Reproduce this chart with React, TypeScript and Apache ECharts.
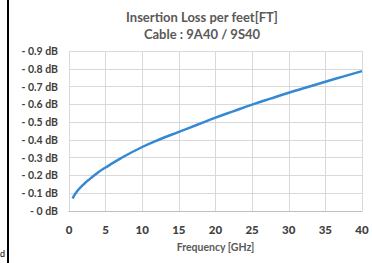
import React, { useEffect, useRef } from "react";
import * as echarts from "echarts";

const titleLines = ["Insertion Loss per feet[FT]", "Cable : 9A40 / 9S40"];
const xAxisName = "Frequency [GHz]";
const frequencies = [0.5, 1, 2, 3, 4, 5, 7, 10, 12.5, 15, 17.5, 20, 22.5, 25, 27.5, 30, 32.5, 35, 37.5, 40];
const lossValues = [0.07, 0.105, 0.15, 0.185, 0.218, 0.245, 0.295, 0.36, 0.405, 0.445, 0.485, 0.525, 0.562, 0.598, 0.632, 0.665, 0.696, 0.727, 0.757, 0.787];
const xTicks = { min: 0, max: 40, interval: 5 };
const yTicks = { min: 0, max: 0.9, interval: 0.1 };

export default function App() {
  const ref = useRef<HTMLDivElement>(null);
  useEffect(() => {
    if (!ref.current) return;
    const chart = echarts.init(ref.current, undefined, { renderer: "svg" });
    const font = "Lato, 'Open Sans', sans-serif";
    chart.setOption({
      animation: false,
      backgroundColor: "#ffffff",
      title: {
        text: titleLines.join("\n"),
        left: 197,
        textAlign: "center",
        top: 3,
        textStyle: {
          fontFamily: font,
          fontWeight: "bold",
          fontSize: 13,
          color: "#595959",
          lineHeight: 17,
        },
      },
      grid: { left: 69, right: 10, top: 51, bottom: 52, containLabel: false },
      xAxis: {
        type: "value",
        min: xTicks.min,
        max: xTicks.max,
        interval: xTicks.interval,
        name: xAxisName,
        nameLocation: "middle",
        nameGap: 30,
        nameTextStyle: { fontFamily: font, fontWeight: "bold", fontSize: 10.5, color: "#595959" },
        axisLine: { show: true, lineStyle: { color: "#bfbfbf", width: 1 } },
        axisTick: { show: false },
        axisLabel: { margin: 12, fontFamily: font, fontWeight: 900, fontSize: 11.5, color: "#404040" },
        splitLine: { show: true, lineStyle: { color: "#d9d9d9", width: 1 } },
      },
      yAxis: {
        type: "value",
        min: yTicks.min,
        max: yTicks.max,
        interval: yTicks.interval,
        axisLine: { show: false },
        axisTick: { show: false },
        axisLabel: {
          margin: 11,
          fontFamily: font,
          fontWeight: "bold",
          fontSize: 10.5,
          color: "#404040",
          formatter: (v: number) => "- " + String(Math.round(v * 10) / 10) + " dB",
        },
        splitLine: { show: true, lineStyle: { color: "#d9d9d9", width: 1 } },
      },
      series: [
        {
          type: "line",
          data: frequencies.map((f, i) => [f, lossValues[i]]),
          smooth: true,
          showSymbol: false,
          lineStyle: { color: "#3589d3", width: 2.5 },
        },
      ],
      graphic: [
        { type: "rect", shape: { x: 7, y: 0, width: 2, height: 263 }, style: { fill: "#000000" } },
        { type: "text", x: 0, y: 249, style: { text: "d", fontSize: 9, fontFamily: "sans-serif", fill: "#000000" } },
      ],
    });
    return () => chart.dispose();
  }, []);
  return <div ref={ref} style={{ position: "absolute", left: 0, top: 0, width: 372, height: 263 }} />;
}
